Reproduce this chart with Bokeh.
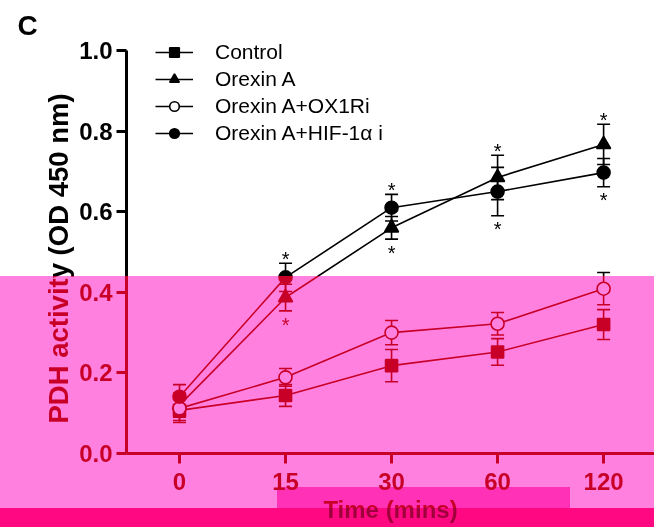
import numpy as np
from bokeh.plotting import figure
from bokeh.models import (Range1d, FixedTicker, ColumnDataSource, Whisker, TeeHead,
                          Legend, LegendItem, Title, PrintfTickFormatter, InlineStyleSheet)
from bokeh.core.properties import value
from bokeh.embed import file_html
from bokeh.resources import INLINE

# ---- data ----
times = ["0", "15", "30", "60", "120"]
control = [0.107, 0.144, 0.218, 0.252, 0.320]
control_err = [0.030, 0.027, 0.040, 0.033, 0.037]
orexin = [0.120, 0.387, 0.560, 0.685, 0.767]
orexin_err = [0.030, 0.033, 0.028, 0.055, 0.050]
ox1ri = [0.112, 0.189, 0.300, 0.322, 0.409]
ox1ri_err = [0.030, 0.022, 0.030, 0.028, 0.040]
hif = [0.141, 0.437, 0.610, 0.650, 0.697]
hif_err = [0.030, 0.035, 0.033, 0.060, 0.035]
y_ticks = [0.0, 0.2, 0.4, 0.6, 0.8, 1.0]
star_times = ["15", "30", "60", "120"]

FONT = "Liberation Sans"
x = list(range(len(times)))

p = figure(width=654, height=527, output_backend="svg", toolbar_location=None,
           x_range=Range1d(-0.5, 4.48), y_range=Range1d(0, 1.0298),
           min_border_left=126, min_border_right=0, min_border_top=38,
           min_border_bottom=74)
p.outline_line_color = None
p.xgrid.visible = False
p.ygrid.visible = False
p.background_fill_color = "white"
p.border_fill_color = "white"

# axes
for ax in (p.xaxis[0], p.yaxis[0]):
    ax.axis_line_width = 3
    ax.axis_line_color = "black"
    ax.major_tick_line_width = 3
    ax.major_tick_line_color = "black"
    ax.major_tick_out = 10
    ax.major_tick_in = 0
    ax.minor_tick_line_color = None
    ax.major_label_text_font = FONT
    ax.major_label_text_font_style = "bold"
    ax.major_label_text_font_size = "24px"
    ax.major_label_text_color = "black"
    ax.axis_label_text_font = FONT
    ax.axis_label_text_font_style = "bold"
    ax.axis_label_text_color = "black"

p.xaxis.ticker = FixedTicker(ticks=x)
p.xaxis.major_label_overrides = {i: t for i, t in enumerate(times)}
p.xaxis.axis_label = "Time (mins)"
p.xaxis.axis_label_text_font_size = "24px"
p.xaxis.major_label_standoff = 9
p.xaxis.axis_label_standoff = 3

p.yaxis.ticker = FixedTicker(ticks=y_ticks)
p.yaxis.formatter = PrintfTickFormatter(format="%.1f")
p.yaxis.bounds = (0, 1.0)
p.yaxis.major_label_standoff = 4

p.add_layout(Title(text="PDH activity (OD 450 nm)", align="left", offset=30,
                   text_font=FONT, text_font_style="bold", text_font_size="27.5px",
                   text_color="black", standoff=6), "left")
p.add_layout(Title(text="C", align="left", offset=-109, text_font=FONT,
                   text_font_style="bold", text_font_size="28px",
                   text_color="black", standoff=-4), "above")

series = [
    ("Control", control, control_err, dict(marker="square", size=12, fill_color="black")),
    ("Orexin A", orexin, orexin_err, dict(marker="triangle", size=14, fill_color="black")),
    ("Orexin A+OX1Ri", ox1ri, ox1ri_err, dict(marker="circle", size=13, fill_color="white")),
    ("Orexin A+HIF-1\u03b1 i", hif, hif_err, dict(marker="circle", size=13, fill_color="black")),
]

items = []
for name, vals, errs, mk in series:
    src = ColumnDataSource(dict(x=x, y=vals,
                                upper=[v + e for v, e in zip(vals, errs)],
                                lower=[v - e for v, e in zip(vals, errs)]))
    w = Whisker(source=src, base="x", upper="upper", lower="lower",
                line_color="black", line_width=1.6,
                upper_head=TeeHead(size=13, line_width=1.6, line_color="black"),
                lower_head=TeeHead(size=13, line_width=1.6, line_color="black"))
    p.add_layout(w)
    ln = p.line("x", "y", source=src, line_color="black", line_width=1.6)
    sc = p.scatter("x", "y", source=src, line_color="black", line_width=1.6, **mk)
    items.append(LegendItem(label=name, renderers=[ln, sc]))

# significance stars above / below the Orexin A and HIF groups
si = [times.index(t) for t in star_times]
top = [max(orexin[i] + orexin_err[i], hif[i] + hif_err[i]) + 0.020 for i in si]
bot = [min(orexin[i] - orexin_err[i], hif[i] - hif_err[i]) - 0.024 for i in si]
star_src = ColumnDataSource(dict(x=si + si, y=top + bot, t=["*"] * (2 * len(si))))
p.text("x", "y", text="t", source=star_src, text_font=value(FONT),
       text_font_size="20px", text_align="center", text_baseline="middle",
       text_color="black", y_offset=4)

legend = Legend(items=items, location=(29, 308), glyph_width=38, glyph_height=24,
                label_standoff=22, spacing=3, padding=0, margin=0,
                background_fill_alpha=0, border_line_alpha=0,
                label_text_font=FONT, label_text_font_size="21px",
                label_text_color="black", label_height=24)
p.add_layout(legend)

# tint of the reference image (pink lower part, darker bands)
css = """
:host { position: relative; }
:host::before, :host::after {
  content: ""; position: absolute; left: 0; top: 0; width: 654px; height: 527px;
  pointer-events: none;
}
:host::before {
  z-index: 50; mix-blend-mode: multiply;
  background:
    linear-gradient(rgb(255,50,170), rgb(255,50,170)) 277px 487px / 293px 21px no-repeat,
    linear-gradient(to bottom, rgba(255,255,255,0) 0px, rgba(255,255,255,0) 276px,
      rgb(255,128,216) 276px, rgb(255,128,216) 508px,
      rgb(255,8,90) 508px, rgb(255,8,90) 527px) 0 0 / 654px 527px no-repeat;
}
:host::after {
  z-index: 51; mix-blend-mode: screen;
  background: linear-gradient(to bottom, rgba(0,0,0,0) 0px, rgba(0,0,0,0) 276px,
      rgb(200,0,40) 276px, rgb(200,0,40) 508px,
      rgb(160,0,60) 508px, rgb(160,0,60) 527px) 0 0 / 654px 527px no-repeat;
}
"""
p.stylesheets = [InlineStyleSheet(css=css)]

open("out.html", "w").write(file_html(p, INLINE))
